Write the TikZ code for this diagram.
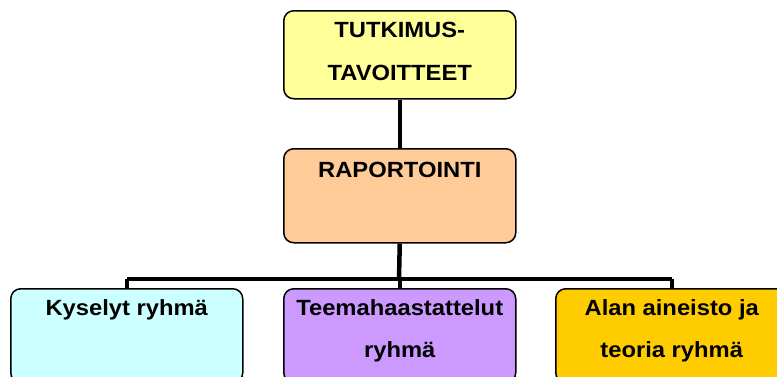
\documentclass[tikz,border=0pt]{standalone}
\usepackage{fontspec}
\setmainfont[FakeStretch=1.08]{Liberation Sans}
\definecolor{cTop}{HTML}{FFFF99}
\definecolor{cMid}{HTML}{FFCC99}
\definecolor{cKys}{HTML}{CCFFFF}
\definecolor{cTee}{HTML}{CC99FF}
\definecolor{cAla}{HTML}{FFCC00}
\begin{document}
\begin{tikzpicture}[x=1pt,y=-1pt,
  box/.style={draw=black,line width=1.5pt,rounded corners=10pt,minimum width=232pt,minimum height=90pt,inner sep=0pt,anchor=north west},
  txt/.style={font=\fontsize{22}{26}\selectfont\bfseries,anchor=base,inner sep=0pt},
  conn/.style={line width=4.5pt}]
\useasboundingbox (0,0) rectangle (777,376);
\fill[white] (0,0) rectangle (777,376);
% boxes
\node[box,fill=cTop,minimum height=88pt] (top) at (283,10) {};
\node[box,fill=cMid,minimum height=94pt] (mid) at (283,148) {};
\node[box,fill=cKys,minimum height=94pt] (b1) at (10,288) {};
\node[box,fill=cTee,minimum height=94pt] (b2) at (283,288) {};
\node[box,fill=cAla,minimum height=94pt] (b3) at (555,288) {};
% connectors
\coordinate (bar) at (399,279);
\draw[conn] (top.south) -- (mid.north);
\draw[conn] (mid.south) -- (bar);
\draw[conn] (b1.north |- bar) -- (b3.north |- bar);
\draw[conn] (b1.north |- bar) -- (b1.north);
\draw[conn] (b2.north |- bar) -- (b2.north);
\draw[conn] (b3.north |- bar) -- (b3.north);
% texts
\node[txt] (t1) at ([yshift=-27pt]top.north) {TUTKIMUS-};
\node[txt] (t2) at ([yshift=-70pt]top.north) {TAVOITTEET};
\node[txt] (m1) at ([yshift=-29pt]mid.north) {RAPORTOINTI};
\node[txt] (k1) at ([yshift=-27pt]b1.north) {Kyselyt ryhmä};
\node[txt] (e1) at ([yshift=-27pt]b2.north) {Teemahaastattelut};
\node[txt] (e2) at ([yshift=-69pt]b2.north) {ryhmä};
\node[txt] (a1) at ([yshift=-27pt]b3.north) {Alan aineisto ja};
\node[txt] (a2) at ([yshift=-69pt]b3.north) {teoria ryhmä};
\end{tikzpicture}
\end{document}
